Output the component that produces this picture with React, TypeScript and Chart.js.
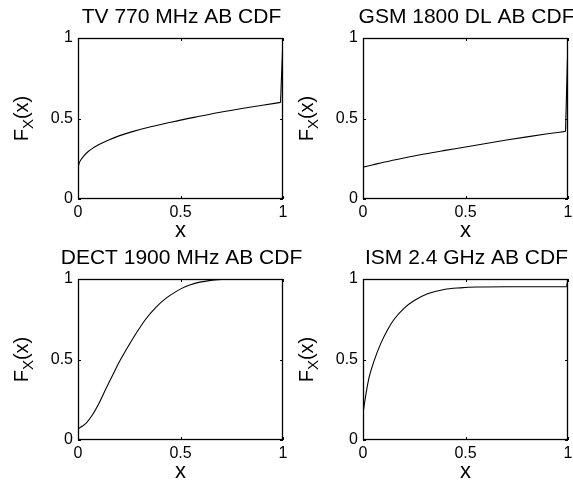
import React, { useEffect, useRef } from "react";
import { Chart, registerables } from "chart.js";

Chart.register(...registerables);

// ---- data ----
const titles = ["TV 770 MHz AB CDF", "GSM 1800 DL AB CDF", "DECT 1900 MHz AB CDF", "ISM 2.4 GHz AB CDF"];

const tvX = [0, 0.005, 0.015, 0.03, 0.05, 0.075, 0.1, 0.15, 0.2, 0.27, 0.35, 0.43, 0.5, 0.6, 0.7, 0.8, 0.9, 0.988, 1];
const tvY = [0.19, 0.22, 0.245, 0.27, 0.295, 0.318, 0.337, 0.367, 0.392, 0.42, 0.447, 0.47, 0.49, 0.515, 0.54, 0.562, 0.582, 0.6, 1];

const gsmX = [0, 0.05, 0.1, 0.2, 0.3, 0.4, 0.5, 0.6, 0.7, 0.8, 0.9, 0.988, 1];
const gsmY = [0.198, 0.213, 0.228, 0.255, 0.28, 0.302, 0.323, 0.345, 0.366, 0.386, 0.405, 0.42, 1];

const dectX = [0, 0.02, 0.04, 0.07, 0.1, 0.135, 0.17, 0.2, 0.235, 0.28, 0.33, 0.38, 0.43, 0.48, 0.52, 0.57, 0.64, 0.7, 0.8, 0.9, 1];
const dectY = [0.07, 0.085, 0.105, 0.155, 0.222, 0.315, 0.405, 0.482, 0.56, 0.655, 0.75, 0.824, 0.881, 0.923, 0.95, 0.973, 0.99, 0.997, 1, 1, 1];

const ismX = [0, 0.015, 0.03, 0.055, 0.087, 0.12, 0.152, 0.2, 0.25, 0.315, 0.395, 0.475, 0.555, 0.7, 0.85, 0.993, 1];
const ismY = [0.167, 0.29, 0.39, 0.495, 0.6, 0.685, 0.75, 0.818, 0.866, 0.908, 0.935, 0.945, 0.95, 0.952, 0.952, 0.952, 1];

// does the last point form a jump (step at x = 1)?
const seriesJumps = [true, true, false, true];

const xTicks = [0, 0.5, 1];
const yTicks = [0, 0.5, 1];
const xLabel = "x";
const yLabelMain = "F";
const yLabelSub = "X";
const yLabelArg = "(x)";

const FONT = '"Liberation Sans", Arial, Helvetica, sans-serif';
const CW = 330;
const CH = 245;
const AREA_RIGHT = 283;

type PanelProps = { title: string; xs: number[]; ys: number[]; jump: boolean; left: number; top: number };

function Panel({ title, xs, ys, jump, left, top }: PanelProps) {
  const ref = useRef<HTMLCanvasElement>(null);
  useEffect(() => {
    const canvas = ref.current!;
    const frame = {
      id: "frame",
      afterDatasetsDraw(chart: any) {
        const { ctx, chartArea } = chart;
        const { left: l, top: t, right: r, bottom: b } = chartArea;
        const sx = chart.scales.x;
        const sy = chart.scales.y;
        ctx.save();
        ctx.strokeStyle = "#000";
        ctx.lineWidth = 1.3;
        ctx.strokeRect(l + 0.5, t + 0.5, r - l - 1, b - t - 1);
        ctx.lineWidth = 1;
        ctx.beginPath();
        xTicks.forEach((v) => {
          const px = Math.round(sx.getPixelForValue(v)) + 0.5;
          ctx.moveTo(px, b);
          ctx.lineTo(px, b - 3);
          ctx.moveTo(px, t);
          ctx.lineTo(px, t + 3);
        });
        yTicks.forEach((v) => {
          const py = Math.round(sy.getPixelForValue(v)) + 0.5;
          ctx.moveTo(l, py);
          ctx.lineTo(l + 3, py);
          ctx.moveTo(r, py);
          ctx.lineTo(r - 3, py);
        });
        ctx.stroke();

        ctx.fillStyle = "#000";
        const cx = (l + r) / 2;
        const cy = (t + b) / 2;
        // title
        ctx.font = `21px ${FONT}`;
        ctx.textAlign = "center";
        ctx.textBaseline = "alphabetic";
        ctx.fillText(title, cx + 1, t - 15);
        // x label
        ctx.font = `22px ${FONT}`;
        ctx.fillText(xLabel, cx, b + 38);
        // y label with subscript
        ctx.translate(28, cy);
        ctx.rotate(-Math.PI / 2);
        ctx.textAlign = "left";
        ctx.font = `20px ${FONT}`;
        const wF = ctx.measureText(yLabelMain).width;
        const wA = ctx.measureText(yLabelArg).width;
        ctx.font = `15px ${FONT}`;
        const wX = ctx.measureText(yLabelSub).width;
        const total = wF + wX + wA;
        let p = -total / 2;
        ctx.font = `20px ${FONT}`;
        ctx.fillText(yLabelMain, p, 0);
        p += wF;
        ctx.font = `15px ${FONT}`;
        ctx.fillText(yLabelSub, p, 5);
        p += wX;
        ctx.font = `20px ${FONT}`;
        ctx.fillText(yLabelArg, p, 0);
        ctx.restore();
      },
    };

    const pts = xs.map((x, i) => ({ x, y: ys[i] }));
    const curve = jump ? pts.slice(0, -1) : pts;
    const datasets: any[] = [
      {
        data: curve,
        borderColor: "#000",
        borderWidth: 1.1,
        pointRadius: 0,
        cubicInterpolationMode: "monotone",
        fill: false,
      },
    ];
    if (jump) {
      datasets.push({
        data: pts.slice(-2),
        borderColor: "#000",
        borderWidth: 1.1,
        pointRadius: 0,
        tension: 0,
        fill: false,
      });
    }

    const tickFont = { family: FONT, size: 16 };
    const chart = new Chart(canvas, {
      type: "line",
      data: { datasets },
      options: {
        responsive: false,
        animation: false,
        devicePixelRatio: 1,
        layout: { padding: { left: 0, right: CW - AREA_RIGHT, top: 38, bottom: 0 } },
        plugins: { legend: { display: false }, tooltip: { enabled: false }, title: { display: false } },
        scales: {
          x: {
            type: "linear",
            min: 0,
            max: 1,
            afterBuildTicks: (s: any) => {
              s.ticks = xTicks.map((v) => ({ value: v }));
            },
            afterFit: (s: any) => {
              s.height = 46;
              s.paddingLeft = 0;
              s.paddingRight = 0;
            },
            grid: { display: false, drawTicks: false },
            border: { display: false },
            ticks: {
              padding: 4,
              color: "#000",
              font: tickFont,
              maxRotation: 0,
              autoSkip: false,
              callback: (v: any) => String(v),
            },
          },
          y: {
            type: "linear",
            min: 0,
            max: 1,
            afterBuildTicks: (s: any) => {
              s.ticks = yTicks.map((v) => ({ value: v }));
            },
            afterFit: (s: any) => {
              s.width = 78;
              s.paddingTop = 0;
              s.paddingBottom = 0;
            },
            grid: { display: false, drawTicks: false },
            border: { display: false },
            ticks: {
              padding: 5,
              color: "#000",
              font: tickFont,
              autoSkip: false,
              callback: (v: any) => String(v),
            },
          },
        },
      } as any,
      plugins: [frame],
    });
    return () => chart.destroy();
  }, [title, xs, ys, jump]);
  return (
    <canvas
      ref={ref}
      width={CW}
      height={CH}
      style={{ position: "absolute", left, top, width: CW, height: CH }}
    />
  );
}

export default function App() {
  return (
    <div style={{ position: "fixed", left: 0, top: 0, width: 573, height: 489, background: "#fff", overflow: "hidden" }}>
      <Panel title={titles[0]} xs={tvX} ys={tvY} jump={seriesJumps[0]} left={0} top={0} />
      <Panel title={titles[1]} xs={gsmX} ys={gsmY} jump={seriesJumps[1]} left={285} top={0} />
      <Panel title={titles[2]} xs={dectX} ys={dectY} jump={seriesJumps[2]} left={0} top={241} />
      <Panel title={titles[3]} xs={ismX} ys={ismY} jump={seriesJumps[3]} left={285} top={241} />
    </div>
  );
}
